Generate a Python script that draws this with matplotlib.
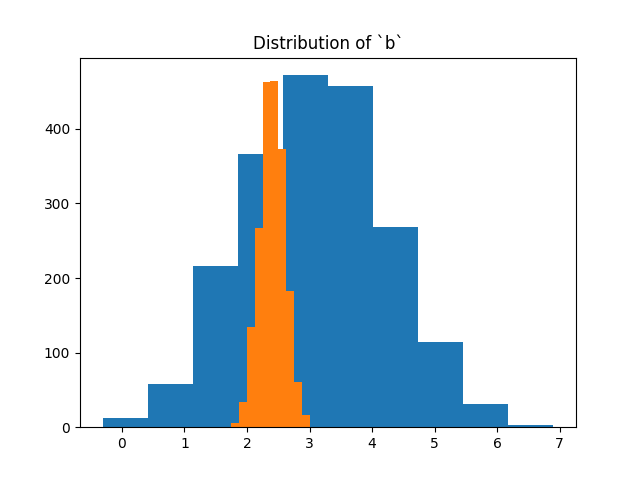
import numpy as np
import matplotlib
matplotlib.use("Agg")
import matplotlib.pyplot as plt

# series a (blue): bin edges and counts
a_start, a_stop = -0.31, 6.90
a_counts = [13, 58, 216, 366, 472, 458, 268, 114, 31, 3]
# series b (orange)
b_start, b_stop = 1.75, 3.00
b_counts = [5, 34, 134, 267, 463, 464, 373, 182, 61, 17]

a_edges = np.linspace(a_start, a_stop, len(a_counts) + 1)
b_edges = np.linspace(b_start, b_stop, len(b_counts) + 1)

fig, ax = plt.subplots(figsize=(6.4, 4.8), dpi=100)
ax.hist((a_edges[:-1] + a_edges[1:]) / 2, bins=a_edges, weights=a_counts)
ax.hist((b_edges[:-1] + b_edges[1:]) / 2, bins=b_edges, weights=b_counts)
ax.set_title("Distribution of `b`")
fig.savefig("out.png")
